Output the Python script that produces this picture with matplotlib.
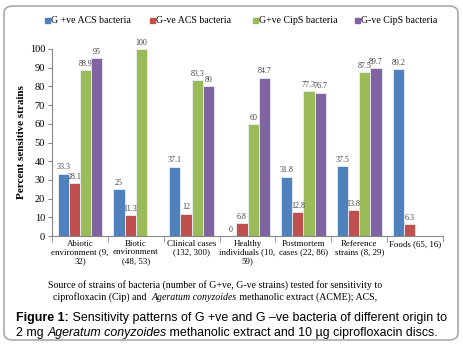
import matplotlib.pyplot as plt
from matplotlib.patches import FancyBboxPatch, Rectangle
import numpy as np

# Data
categories = ["Abiotic\nenvironment (9,\n32)", "Biotic\nenvironment\n(48, 53)",
              "Clinical cases\n(132, 300)", "Healthy\nindividuals (10,\n59)",
              "Postmortem\ncases (22, 86)", "Reference\nstrains (8, 29)", "Foods (65, 16)"]
series_names = ["G +ve ACS bacteria", "G-ve ACS bacteria", "G+ve CipS bacteria", "G-ve CipS bacteria"]
gpos_acs = [33.3, 25, 37.1, 0, 31.8, 37.5, 89.2]
gneg_acs = [28.1, 11.3, 12, 6.8, 12.8, 13.8, 6.3]
gpos_cip = [88.9, 100, 83.3, 60, 77.3, 87.5, None]
gneg_cip = [95, None, 80, 84.7, 76.7, 89.7, None]
colors = ['#4F81BD', '#C0504D', '#9BBB59', '#8064A2']

serif = 'Liberation Serif'
sans = 'Liberation Sans'
W, H = 463, 345

fig = plt.figure(figsize=(4.63, 3.45), dpi=100)
ax = fig.add_axes([52/W, 1-236/H, (443-52)/W, (236-49)/H])

x = np.arange(len(categories))
w = 0.2
for i, vals in enumerate([gpos_acs, gneg_acs, gpos_cip, gneg_cip]):
    for j, v in enumerate(vals):
        if v is None:
            continue
        xp = x[j] + (i - 1.5) * w
        ax.bar(xp, v, width=w, color=colors[i], edgecolor='#e8eef6', linewidth=0.6)
        ax.text(xp, v + 1.2, f"{v:g}", ha='center', va='bottom', fontsize=5.8,
                color='#404040', family=serif)

ax.set_xlim(-0.5, len(categories) - 0.5)
ax.set_ylim(0, 100)
ax.set_yticks(range(0, 101, 10))
ax.tick_params(axis='y', labelsize=7.5, length=3, color='#888888', pad=2)
for lb in ax.get_yticklabels():
    lb.set_family(serif)
ax.set_xticks(x)
ax.set_xticklabels(categories, fontsize=6.4, family=serif, linespacing=1.05)
ax.tick_params(axis='x', length=0, pad=3)
ax.set_xticks(np.arange(-0.5, len(categories)), minor=True)
ax.tick_params(axis='x', which='minor', length=4, color='#888888')
for s in ['top', 'right']:
    ax.spines[s].set_visible(False)
for s in ['left', 'bottom']:
    ax.spines[s].set_color('#888888')
    ax.spines[s].set_linewidth(0.8)
ax.set_ylabel("Percent sensitive strains", fontsize=8, fontweight='bold', family=serif, labelpad=3)

# legend
leg_x = [45, 150, 253, 355]
for i, name in enumerate(series_names):
    fig.patches.append(Rectangle((leg_x[i]/W, 1-23/H), 5/W, 5/H,
                                 transform=fig.transFigure, color=colors[i]))
    fig.text((leg_x[i]+6)/W, 1-20.5/H, name, fontsize=7.1, family=serif,
             va='center', ha='left')

renderer = fig.canvas.get_renderer()


def rich_line(pieces, x0, y0, center=False, **kw):
    texts = []
    for s, style, weight in pieces:
        t = fig.text(0, y0/H, s, fontstyle=style, fontweight=weight, va='baseline', ha='left', **kw)
        texts.append(t)
    widths = [t.get_window_extent(renderer).width for t in texts]
    start = x0 - sum(widths)/2 if center else x0
    for t, wd in zip(texts, widths):
        t.set_x(start/W)
        start += wd


# source note
rich_line([("Source of strains of bacteria (number of G+ve, G-ve strains) tested for sensitivity to",
            'normal', 'normal')], 215, H-288, center=True, fontsize=7.1, family=serif)
rich_line([("ciprofloxacin (Cip) and  ", 'normal', 'normal'),
           ("Ageratum conyzoides", 'italic', 'normal'),
           (" methanolic extract (ACME); ACS,", 'normal', 'normal')],
          215, H-300, center=True, fontsize=7.1, family=serif)

# caption
rich_line([("Figure 1:", 'normal', 'bold'),
           (" Sensitivity patterns of G +ve and G \u2013ve bacteria of different origin to", 'normal', 'normal')],
          16, H-321, fontsize=8.9, family=sans)
rich_line([("2 mg ", 'normal', 'normal'),
           ("Ageratum conyzoides", 'italic', 'normal'),
           (" methanolic extract and 10 \u00b5g ciprofloxacin discs.", 'normal', 'normal')],
          16, H-336, fontsize=8.9, family=sans)

# rounded border
fig.patches.append(FancyBboxPatch((4/W, 5/H), 454/W, 334/H,
                                  boxstyle="round,pad=0,rounding_size=0.02",
                                  transform=fig.transFigure, fill=False,
                                  edgecolor='#aaaaaa', linewidth=1.2))

fig.savefig("out.png", dpi=100)
